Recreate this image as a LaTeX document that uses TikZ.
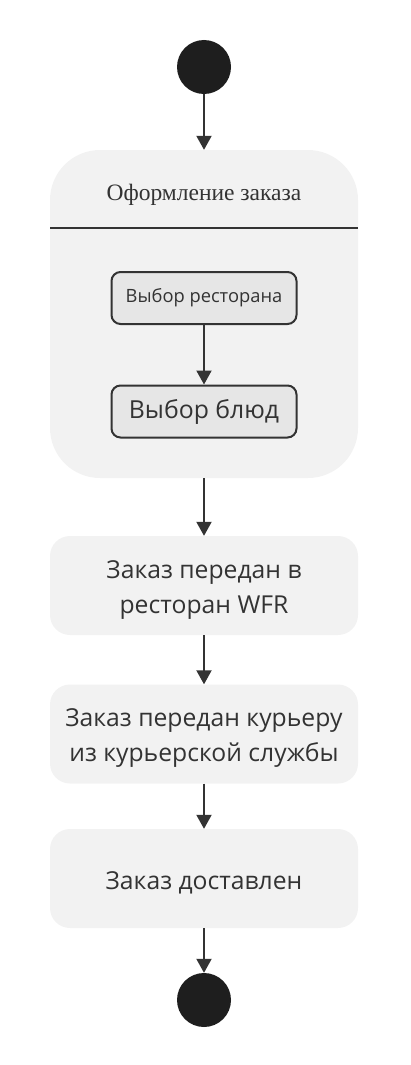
\documentclass[tikz,border=0pt]{standalone}
\usepackage{fontspec}
\setmainfont{Open Sans}
\newfontfamily\titlefont{Liberation Serif}
\usepackage{color}
\definecolor{mydark}{RGB}{51,51,51}
\definecolor{myblack}{RGB}{30,30,30}
\definecolor{mylight}{RGB}{242,242,242}
\definecolor{mygrey}{RGB}{230,230,230}
\usepackage{tikz}
\usetikzlibrary{arrows.meta,positioning}
\newcommand{\lift}{\rule{0pt}{26pt}}
\tikzstyle{dot}=[fill=myblack,circle,minimum size=54pt,inner sep=0pt]
\tikzstyle{action}=[fill=mylight,rounded corners=20pt,minimum width=308pt,minimum height=99pt,align=center,text=mydark,font=\fontsize{24.7}{35}\selectfont]
\tikzstyle{inner}=[draw=mydark,line width=2pt,fill=mygrey,rounded corners=9pt,minimum width=185pt,minimum height=52pt,text=mydark]
\tikzstyle{flow}=[-{Triangle[length=14pt,width=15pt]},line width=2pt,draw=mydark]

\begin{document}
\begin{tikzpicture}[x=1pt,y=-1pt]
\useasboundingbox (0, 0) rectangle (411, 1065);
\draw (204, 67) node [dot] (start) {};
\draw (204, 314) node [fill=mylight, rounded corners=50pt, minimum width=308pt, minimum height=328pt] (order) {};
\draw (204, 195) node [text=mydark, font=\titlefont\fontsize{23.5}{26}\selectfont] (title) {Оформление заказа};
\coordinate (sepl) at (50, 228);
\coordinate (sepr) at (358, 228);
\draw[line width=2pt, mydark] (sepl) -- (sepr);
\draw (204, 298) node [inner, font=\fontsize{18.3}{21}\selectfont] (rest) {Выбор ресторана};
\draw (204, 411.5) node [inner, font=\fontsize{24.8}{28}\selectfont] (dish) {Выбор блюд};
\draw (204, 585.5) node [action] (wfr) {\lift Заказ передан в\\ресторан WFR};
\draw (204, 734) node [action] (courier) {\lift Заказ передан курьеру\\из курьерской службы};
\draw (204, 878.5) node [action] (done) {\lift Заказ доставлен};
\draw (204, 1000) node [dot] (finish) {};
\draw[flow] (start) -- (order);
\draw[flow] (rest) -- (dish);
\draw[flow] (order) -- (wfr);
\draw[flow] (wfr) -- (courier);
\draw[flow] (courier) -- (done);
\draw[flow] (done) -- (finish);
\end{tikzpicture}
\end{document}
